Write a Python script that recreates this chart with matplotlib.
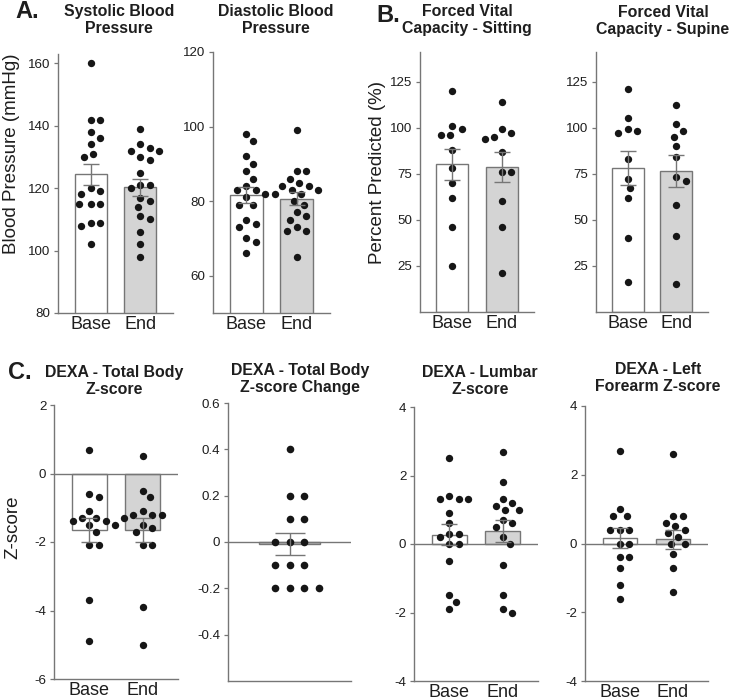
import numpy as np
import matplotlib
matplotlib.use("Agg")
import matplotlib.pyplot as plt

plt.rcParams["font.family"] = ["Liberation Sans", "DejaVu Sans"]
plt.rcParams["axes.unicode_minus"] = False

# ----------------------------
# Data
# ----------------------------
groups = ["Base", "End"]

sbp_base = [160, 142, 142, 138, 136, 134, 131, 130, 120, 119, 118, 115, 115, 115, 109, 109, 108, 102]
sbp_end = [139, 134, 133, 132, 132, 130, 129, 125, 121, 121, 120, 117, 116, 114, 111, 110, 106, 102, 98]
sbp_mean = [124.4, 120.3]
sbp_sem = [3.4, 2.7]

dbp_base = [98, 96, 92, 90, 88, 86, 84, 83, 83, 82, 81, 79, 79, 75, 74, 73, 70, 69, 66]
dbp_end = [99, 88, 88, 86, 85, 84, 84, 83, 83, 82, 82, 80, 79, 77, 76, 75, 73, 72, 72, 65]
dbp_mean = [81.6, 80.7]
dbp_sem = [2.1, 1.8]

fvc_sit_base = [120, 101, 99, 96, 96, 88, 78, 70, 62, 46, 25]
fvc_sit_end = [114, 99, 97, 95, 94, 87, 76, 76, 60, 46, 21]
fvc_sit_mean = [80.1, 78.7]
fvc_sit_sem = [8.5, 8.2]

fvc_sup_base = [121, 105, 99, 98, 97, 83, 72, 67, 62, 40, 16]
fvc_sup_end = [112, 102, 98, 95, 90, 84, 73, 71, 58, 41, 15]
fvc_sup_mean = [78.2, 76.3]
fvc_sup_sem = [9.3, 8.7]

tb_base = [0.7, -0.6, -0.7, -1.1, -1.3, -1.3, -1.4, -1.4, -1.5, -1.5, -1.7, -2.1, -2.1, -3.7, -4.9]
tb_end = [0.5, -0.5, -0.7, -1.1, -1.2, -1.2, -1.2, -1.3, -1.5, -1.6, -1.7, -2.1, -2.1, -3.9, -5.0]
tb_mean = [-1.65, -1.65]
tb_sem = [0.35, 0.34]

tb_change = [0.4, 0.2, 0.2, 0.1, 0.1, 0.0, 0.0, 0.0, -0.1, -0.1, -0.1, -0.2, -0.2, -0.2, -0.2]
tb_change_mean = [-0.007]
tb_change_sem = [0.047]

lum_base = [2.5, 1.4, 1.3, 1.3, 1.3, 0.9, 0.6, 0.3, 0.3, 0.2, 0.0, 0.0, -0.5, -1.5, -1.7, -1.9]
lum_end = [2.7, 1.8, 1.3, 1.2, 1.1, 1.0, 1.0, 0.7, 0.6, 0.5, 0.2, 0.0, -0.6, -1.5, -1.9, -2.0]
lum_mean = [0.27, 0.37]
lum_sem = [0.31, 0.32]

fa_base = [2.7, 1.0, 0.8, 0.8, 0.4, 0.4, 0.4, 0.0, 0.0, -0.4, -0.4, -0.7, -1.2, -1.6]
fa_end = [2.6, 0.8, 0.8, 0.6, 0.5, 0.4, 0.3, 0.2, 0.0, 0.0, -0.3, -0.7, -1.4]
fa_mean = [0.15, 0.12]
fa_sem = [0.29, 0.28]

# ----------------------------
# Layout helpers
# ----------------------------
W, H = 734, 700
GRAY = "#767676"
DOT = "#161616"
END_FILL = "#d4d4d4"

fig = plt.figure(figsize=(W / 100, H / 100), dpi=100)


def box(l, t, r, b):
    return [l / W, 1 - b / H, (r - l) / W, (b - t) / H]


def ftext(x, y, s, **kw):
    fig.text(x / W, 1 - y / H, s, **kw)


def style(ax, ylim, yticks, yticklabels=None):
    for s in ["top", "right"]:
        ax.spines[s].set_visible(False)
    for s in ["left", "bottom"]:
        ax.spines[s].set_color(GRAY)
        ax.spines[s].set_linewidth(1.0)
    ax.set_ylim(ylim)
    ax.set_yticks(yticks)
    if yticklabels is not None:
        ax.set_yticklabels(yticklabels)
    ax.tick_params(axis="y", length=3, width=0.9, color=GRAY, pad=2.5,
                   labelsize=9.6, labelcolor="#1e1e1e")
    ax.tick_params(axis="x", length=0, pad=2, labelsize=13, labelcolor="#1e1e1e")


def swarm(ax, values, x0, gap):
    # greedy beeswarm, done in pixel space so dots don't overlap
    trans = ax.transData
    px_per_x = trans.transform((1, 0))[0] - trans.transform((0, 0))[0]
    step = gap / 4
    cands = [0.0] + [s * k * step for k in range(1, 60) for s in (1, -1)]
    placed = []
    xs = np.zeros(len(values))
    for i in np.argsort(values)[::-1]:
        y = trans.transform((0, values[i]))[1]
        for off in cands:
            if all((off - px) ** 2 + (y - py) ** 2 >= gap ** 2 for px, py in placed):
                break
        placed.append((off, y))
        xs[i] = x0 + off / px_per_x
    return xs


def paired_panel(ax, base, end, means, sems, ylim, yticks, zero_line=False):
    style(ax, ylim, yticks)
    ax.set_xlim(-0.66, 1.66)
    x = [0, 1]
    ax.bar(x, means, width=0.65, color=["white", END_FILL], edgecolor=GRAY,
           linewidth=1.0, zorder=2)
    if zero_line:
        ax.axhline(0, color=GRAY, lw=1.0, zorder=2.5)
    for xi, vals in zip(x, [base, end]):
        ax.scatter(swarm(ax, vals, xi, 9.5), vals, s=28, color=DOT,
                   linewidths=0, zorder=3)
    ax.errorbar(x, means, yerr=sems, fmt="none", ecolor=GRAY, elinewidth=1.0,
                capsize=6, capthick=1.0, zorder=4)
    ax.set_xticks(x, groups)


# ----------------------------
# Row A / B
# ----------------------------
ax1 = fig.add_axes(box(58, 54, 173, 313))
paired_panel(ax1, sbp_base, sbp_end, sbp_mean, sbp_sem, (80, 163), [80, 100, 120, 140, 160])

ax2 = fig.add_axes(box(213, 52, 330, 313))
paired_panel(ax2, dbp_base, dbp_end, dbp_mean, dbp_sem, (50, 120), [60, 80, 100, 120])

ax3 = fig.add_axes(box(420, 52, 534, 312))
paired_panel(ax3, fvc_sit_base, fvc_sit_end, fvc_sit_mean, fvc_sit_sem, (0, 141), [25, 50, 75, 100, 125])

ax4 = fig.add_axes(box(596, 52, 708, 312))
paired_panel(ax4, fvc_sup_base, fvc_sup_end, fvc_sup_mean, fvc_sup_sem, (0, 141), [25, 50, 75, 100, 125])

# ----------------------------
# Row C
# ----------------------------
ax5 = fig.add_axes(box(54, 405, 178, 679))
paired_panel(ax5, tb_base, tb_end, tb_mean, tb_sem, (-6, 2), [-6, -4, -2, 0, 2], zero_line=True)

ax6 = fig.add_axes(box(228, 403, 351, 681))
style(ax6, (-0.6, 0.6), [-0.4, -0.2, 0, 0.2, 0.4, 0.6],
      ["-0.4", "-0.2", "0", "0.2", "0.4", "0.6"])
ax6.set_xlim(-1, 1)
ax6.bar([0], tb_change_mean, width=0.98, color="#c4c4c4", edgecolor=GRAY,
        linewidth=1.0, zorder=2)
ax6.axhline(0, color=GRAY, lw=1.0, zorder=2.5)
ax6.scatter(swarm(ax6, tb_change, 0, 14.5), tb_change, s=30, color=DOT,
            linewidths=0, zorder=3)
ax6.errorbar([0], tb_change_mean, yerr=tb_change_sem, fmt="none", ecolor=GRAY,
             elinewidth=1.0, capsize=10.5, capthick=1.0, zorder=4)
ax6.set_xticks([])

ax7 = fig.add_axes(box(414, 407, 538, 681))
paired_panel(ax7, lum_base, lum_end, lum_mean, lum_sem, (-4, 4), [-4, -2, 0, 2, 4], zero_line=True)

ax8 = fig.add_axes(box(585, 406, 708, 681))
paired_panel(ax8, fa_base, fa_end, fa_mean, fa_sem, (-4, 4), [-4, -2, 0, 2, 4], zero_line=True)

# ----------------------------
# Titles, labels, panel letters
# ----------------------------
tkw = dict(ha="center", va="center", fontsize=11.4, fontweight="bold",
           color="#1e1e1e", linespacing=1.15)
ftext(119, 20, "Systolic Blood\nPressure", **tkw)
ftext(276, 20, "Diastolic Blood\nPressure", **tkw)
ftext(467, 20, "Forced Vital\nCapacity - Sitting", **tkw)
ftext(663, 21, "Forced Vital\nCapacity - Supine", **tkw)
ftext(114, 381, "DEXA - Total Body\nZ-score", **tkw)
ftext(300, 379, "DEXA - Total Body\nZ-score Change", **tkw)
ftext(480, 381, "DEXA - Lumbar\nZ-score", **tkw)
ftext(658, 378, "DEXA - Left\nForearm Z-score", **tkw)

lkw = dict(ha="center", va="center", fontsize=13.5, rotation=90, color="#1e1e1e")
ftext(12, 154, "Blood Pressure (mmHg)", **lkw)
ftext(377, 172, "Percent Predicted (%)", **lkw)
ftext(13, 527, "Z-score", **lkw)

pkw = dict(ha="center", va="center", fontsize=17, fontweight="bold", color="#1e1e1e")
ftext(27, 12, "A.", **pkw)
ftext(388, 15, "B.", **pkw)
ftext(20, 373, "C.", **pkw)

fig.savefig("out.png", dpi=100)
